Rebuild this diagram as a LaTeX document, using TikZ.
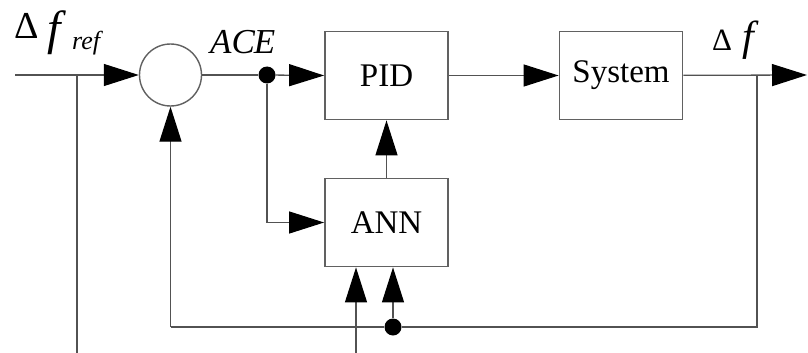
\documentclass[tikz,border=0pt]{standalone}
\usepackage{fontspec}
\setmainfont{Liberation Serif}[ItalicFont={Liberation Serif Italic}]
\usetikzlibrary{arrows.meta}
\begin{document}
\begin{tikzpicture}[x=1pt,y=-1pt,
  line/.style={draw=black!68, line width=1.3pt},
  arr/.style={line, -{Triangle[length=35pt,width=22pt,color=black]}},
  blockbox/.style={draw=black!62, line width=1.8pt, minimum width=123pt, minimum height=88pt, inner sep=0pt, font=\fontsize{33}{38}\selectfont},
  sumnode/.style={circle, draw=black!62, line width=1.4pt, minimum size=62pt, inner sep=0pt},
  dotnode/.style={circle, fill=black, inner sep=0pt, minimum size=17pt},
  lbl/.style={inner sep=0pt, anchor=base west}]
\useasboundingbox (0,0) rectangle (808,353);
% blocks
\node[blockbox] (pid) at (386.5,75.5) {PID};
\node[blockbox] (sys) at (621,75.5) {System};
\node[blockbox] (ann) at (386.5,222.5) {ANN};
\node[sumnode] (sum) at (170.5,75) {};
% junctions
\node[dotnode] (ace) at (267,75) {};
\node[dotnode] (fbdot) at (393,327) {};
\coordinate (in) at (15,75);
\coordinate (tapin) at (77,75);
\coordinate (tapinb) at (77,353);
\coordinate (out) at (807,75);
\coordinate (tapout) at (757,75);
\coordinate (fbr) at (757,327);
\coordinate (fbl) at (170.5,327);
\coordinate (bin) at (356,353);
% connectors
\draw[arr] (in) -- (sum.west);
\draw[line] (tapin) -- (tapinb);
\draw[line] (sum.east) -- (ace);
\draw[arr] (ace) -- (pid.west);
\draw[arr] (ace) |- (ann.west);
\draw[arr] (pid) -- (sys);
\draw[arr] (sys) -- (out);
\draw[arr] (ann) -- (pid);
\draw[line] (tapout) -- (fbr) -- (fbdot) -- (fbl);
\draw[arr] (fbl) -- (sum.south);
\draw[arr] (fbdot) -- (fbdot |- ann.south);
\draw[arr] (bin) -- (bin |- ann.south);
% labels
\node[lbl] (lref) at (14,38) {\fontsize{38}{42}\selectfont\rlap{Δ}\hspace{33pt}\rlap{\raisebox{-6pt}{\fontsize{48}{52}\selectfont\itshape f}}\hspace{25pt}\raisebox{-12pt}{\fontsize{26}{29}\selectfont\itshape ref}};
\node[lbl] (lace) at (210,53) {\fontsize{35}{40}\selectfont\itshape AC\kern-1pt E};
\node[lbl] (lout) at (712,51) {\fontsize{31}{35}\selectfont\rlap{Δ}\hspace{30pt}{\fontsize{42}{46}\selectfont\itshape f}};
\end{tikzpicture}
\end{document}
